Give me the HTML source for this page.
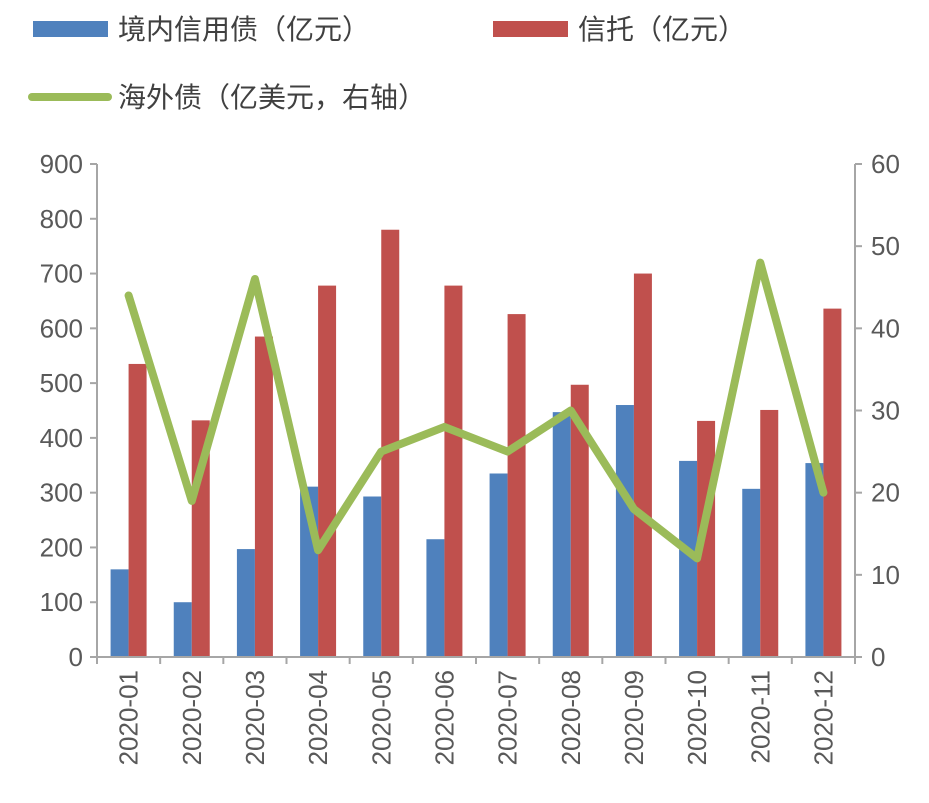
<!DOCTYPE html>
<html><head><meta charset="utf-8"><style>
body{margin:0;background:#fff;}
svg text{font-family:"Liberation Sans","Noto Sans CJK SC",sans-serif;fill:#595959;}
</style></head><body>
<svg width="929" height="798" xmlns="http://www.w3.org/2000/svg">
<g>
 <rect x="33" y="21" width="75" height="16" fill="#4f81bd"/>
 <text x="118" y="39" font-size="28" style="fill:#404040">境内信用债（亿元）</text>
 <rect x="493" y="21" width="75" height="16" fill="#c0504d"/>
 <text x="578" y="39" font-size="28" style="fill:#404040">信托（亿元）</text>
 <line x1="32" y1="97" x2="108" y2="97" stroke="#9bbb59" stroke-width="8" stroke-linecap="round"/>
 <text x="118" y="107" font-size="28" style="fill:#404040">海外债（亿美元，右轴）</text>
</g>
<g id="plot"></g>
</svg>
<script>
const categories=["2020-01","2020-02","2020-03","2020-04","2020-05","2020-06","2020-07","2020-08","2020-09","2020-10","2020-11","2020-12"];
const domesticValues=[160,100,197,311,293,215,335,447,460,358,307,354];
const trustValues=[535,432,585,678,780,678,626,497,700,431,451,636];
const overseasValues=[44,19,46,13,25,28,25,30,18,12,48,20];
const leftTicks=[0,100,200,300,400,500,600,700,800,900];
const rightTicks=[0,10,20,30,40,50,60];
const NS="http://www.w3.org/2000/svg";
const g=document.getElementById('plot');
const X0=97,X1=855,Y0=657,Y1=164;
const step=(X1-X0)/categories.length;
const yL=v=>Y0-(v/900)*(Y0-Y1);
const yR=v=>Y0-(v/60)*(Y0-Y1);
const xc=i=>X0+step*(i+0.5);
function mk(t,a){const e=document.createElementNS(NS,t);for(const k in a)e.setAttribute(k,a[k]);g.appendChild(e);return e;}
const bw=18;
categories.forEach((c,i)=>{
 let r=mk('rect',{x:xc(i)-bw,y:yL(domesticValues[i]),width:bw,height:Y0-yL(domesticValues[i]),fill:'#4f81bd'});
 
 
 let r2=mk('rect',{x:xc(i),y:yL(trustValues[i]),width:bw,height:Y0-yL(trustValues[i]),fill:'#c0504d'});
 
 
});
// axes
let ax=mk('path',{d:`M${X0} ${Y1}V${Y0}H${X1}V${Y1}`,stroke:'#a6a6a6','stroke-width':2,fill:'none'});


leftTicks.forEach(v=>{
 mk('line',{x1:X0-7,x2:X0,y1:yL(v),y2:yL(v),stroke:'#a6a6a6','stroke-width':2});
 let t=mk('text',{x:X0-14,y:yL(v)+9,'text-anchor':'end','font-size':26});
 t.textContent=v;
 
 
});
rightTicks.forEach(v=>{
 mk('line',{x1:X1,x2:X1+7,y1:yR(v),y2:yR(v),stroke:'#a6a6a6','stroke-width':2});
 let t=mk('text',{x:X1+16,y:yR(v)+9,'text-anchor':'start','font-size':26});
 t.textContent=v;
 
 
});
for(let i=0;i<=categories.length;i++){
 mk('line',{x1:X0+step*i,x2:X0+step*i,y1:Y0,y2:Y0+7,stroke:'#a6a6a6','stroke-width':2});
}
categories.forEach((c,i)=>{
 let t=mk('text',{x:0,y:0,'text-anchor':'end','font-size':26,transform:`translate(${xc(i)+9},${Y0+13}) rotate(-90)`});
 t.textContent=c;
 
 
});
let pts=overseasValues.map((v,i)=>xc(i)+','+yR(v)).join(' ');
let pl=mk('polyline',{points:pts,fill:'none',stroke:'#9bbb59','stroke-width':8,'stroke-linejoin':'round','stroke-linecap':'round'});


</script>
</body></html>
